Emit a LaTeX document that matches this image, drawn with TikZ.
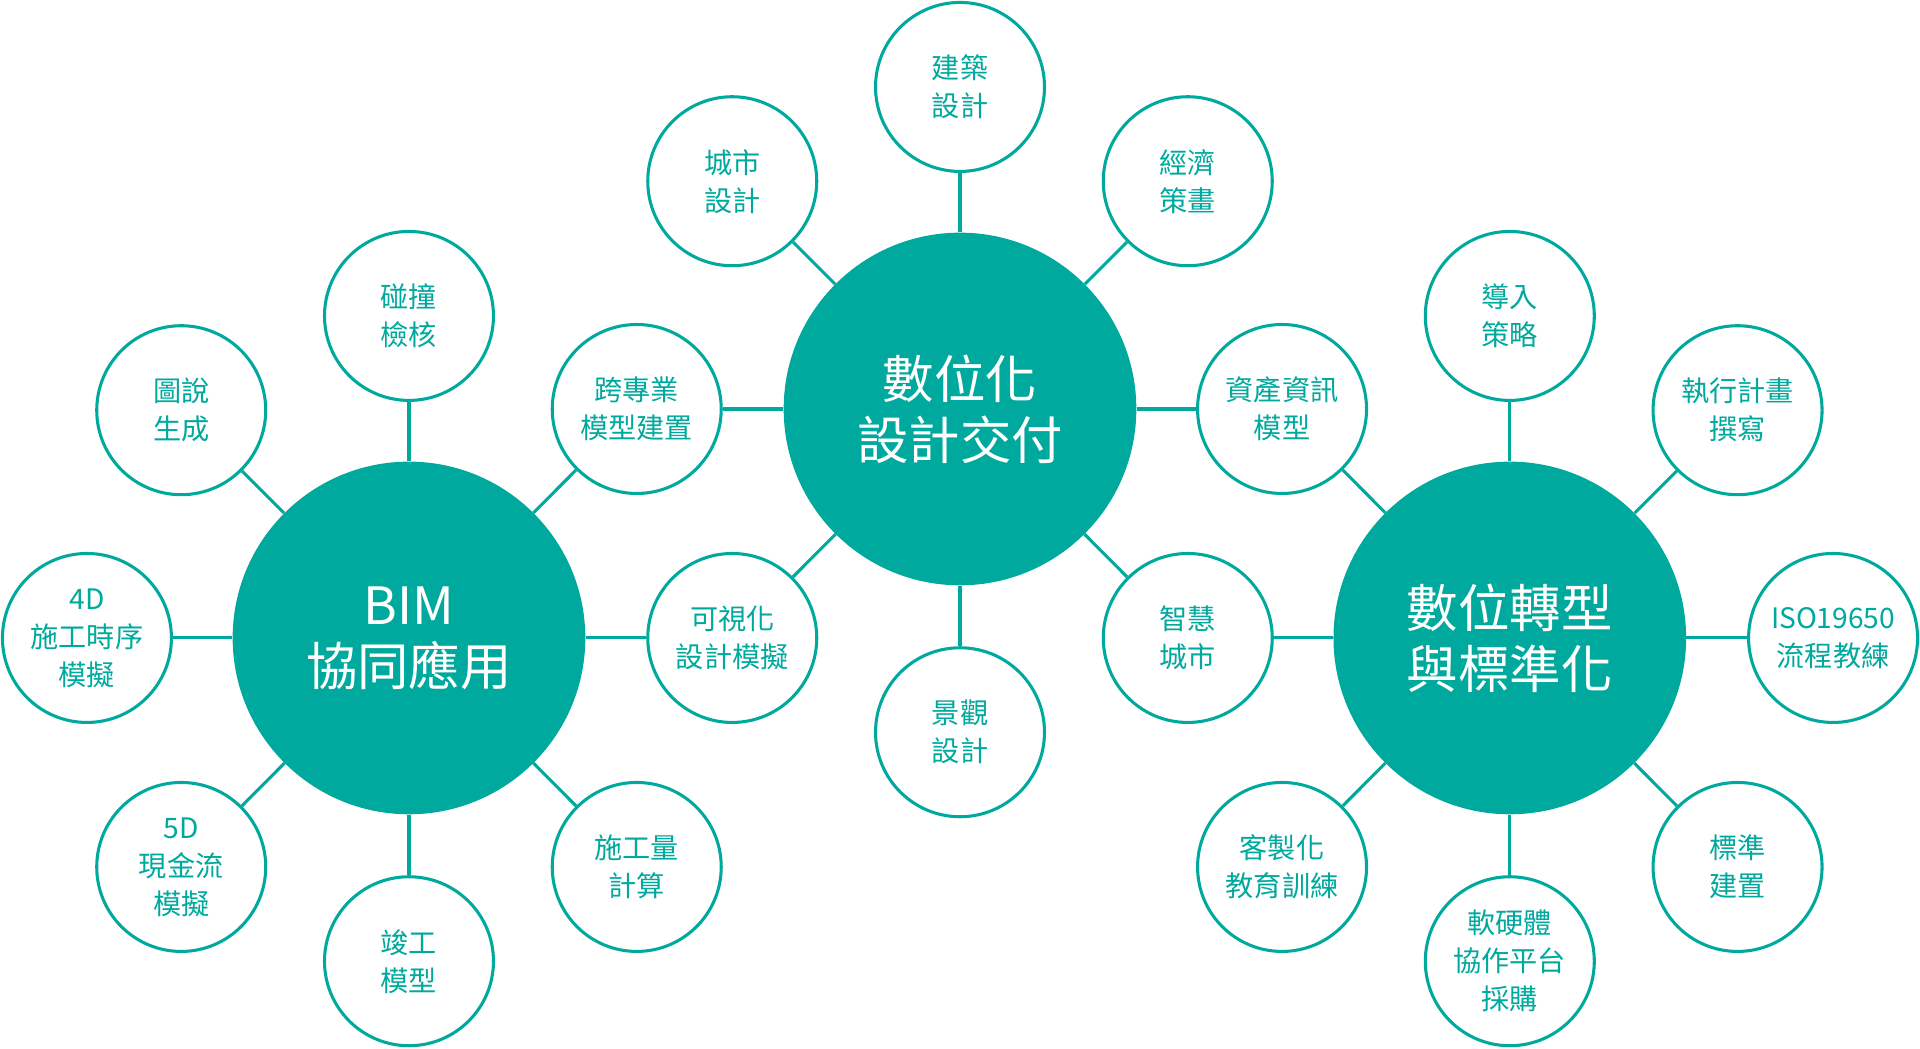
\documentclass[tikz,border=0pt]{standalone}
\usepackage{fontspec}
\setmainfont{Noto Sans CJK TC}
\definecolor{teal1}{HTML}{00A99D}
\begin{document}
\begin{tikzpicture}[x=1pt,y=-1pt,
  hub/.style={circle,fill=teal1,minimum size=288pt,inner sep=0pt,text=white,font=\fontsize{42}{50}\selectfont,align=center},
  leaf/.style={circle,draw=teal1,line width=2.5pt,fill=white,minimum size=138pt,inner sep=0pt,text=teal1,font=\fontsize{23}{31}\selectfont,align=center},
  link/.style={draw=teal1,line width=2.5pt}]
\useasboundingbox (0,0) rectangle (1568,856);
\node[hub] (c) at (784,334) {數位化\\設計交付};
\node[hub] (b) at (334,521) {BIM\\協同應用};
\node[hub] (r) at (1233,521) {數位轉型\\與標準化};
\node[leaf] (c1) at (784,71) {建築\\設計};
\node[leaf] (c2) at (598,148) {城市\\設計};
\node[leaf] (c3) at (970,148) {經濟\\策畫};
\node[leaf] (s1) at (520,334) {跨專業\\模型建置};
\node[leaf] (s2) at (1047,334) {資產資訊\\模型};
\node[leaf] (s3) at (598,521) {可視化\\設計模擬};
\node[leaf] (s4) at (970,521) {智慧\\城市};
\node[leaf] (c4) at (784,598) {景觀\\設計};
\node[leaf] (b1) at (334,258) {碰撞\\檢核};
\node[leaf] (b2) at (148,335) {圖說\\生成};
\node[leaf] (b3) at (71,521) {4D\\施工時序\\模擬};
\node[leaf] (b4) at (148,708) {5D\\現金流\\模擬};
\node[leaf] (b5) at (334,785) {竣工\\模型};
\node[leaf] (b6) at (520,708) {施工量\\計算};
\node[leaf] (r1) at (1233,258) {導入\\策略};
\node[leaf] (r2) at (1419,335) {執行計畫\\撰寫};
\node[leaf] (r3) at (1497,521) {ISO19650\\流程教練};
\node[leaf] (r4) at (1419,708) {標準\\建置};
\node[leaf] (r5) at (1233,785) {軟硬體\\協作平台\\採購};
\node[leaf] (r6) at (1047,708) {客製化\\教育訓練};
\foreach \a/\z in {c/c1,c/c2,c/c3,c/s1,c/s2,c/s3,c/s4,c/c4,b/b1,b/b2,b/b3,b/b4,b/b5,b/b6,b/s1,b/s3,r/r1,r/r2,r/r3,r/r4,r/r5,r/r6,r/s2,r/s4}
  \draw[link] (\a) -- (\z);
\end{tikzpicture}
\end{document}
